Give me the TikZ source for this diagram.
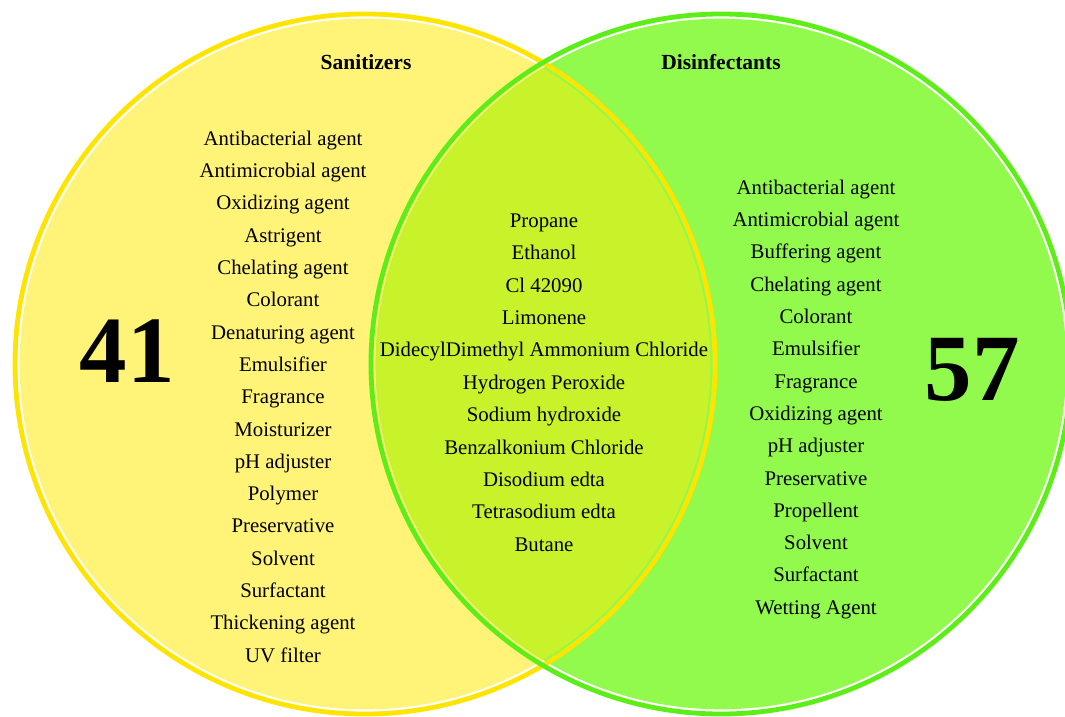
\documentclass[tikz,border=0pt]{standalone}
\usepackage{fontspec}
\setmainfont{Liberation Serif}
\definecolor{san_fill}{RGB}{255,243,120}
\definecolor{san_ring}{RGB}{255,228,0}
\definecolor{dis_fill}{RGB}{146,250,77}
\definecolor{dis_ring}{RGB}{92,238,22}
\definecolor{both_fill}{RGB}{200,242,42}
\tikzstyle{item_text} = [
    inner sep=0pt, 
    anchor=mid, 
    font=\fontsize{20.8}{25}\selectfont
]
\tikzstyle{head_text} = [
    inner sep=0pt, 
    anchor=mid, 
    font=\fontsize{21.5}{26}\selectfont\bfseries
]
\tikzstyle{count_text} = [
    inner sep=0pt, 
    font=\fontsize{95}{100}\selectfont\bfseries
]
\tikzstyle{ring} = [line width=4.8pt]
\begin{document}
\begin{tikzpicture}[x=1pt, y=-1pt]
\clip (0,0) rectangle (1065,717);
% fills
\fill [san_fill] (365,364) circle (345.3);
\fill [dis_fill] (721,364) circle (345.3);
\begin{scope}
    \clip (365,364) circle (345.3);
    \fill [both_fill] (721,364) circle (345.3);
\end{scope}
% rings
\draw [ring, san_ring] (365,364) circle (350);
\draw [ring, dis_ring] (721,364) circle (350);
% headings and counts
\node [head_text] (san_head) at (366,67) {Sanitizers};
\node [head_text] (dis_head) at (721,67) {Disinfectants};
\node [count_text] (san_count) at (127,351) {41};
\node [count_text] (dis_count) at (972,370) {57};
% lists
\foreach \name [count=\i] in {Antibacterial agent, Antimicrobial agent, 
    Oxidizing agent, Astrigent, Chelating agent, Colorant, Denaturing agent, 
    Emulsifier, Fragrance, Moisturizer, pH adjuster, Polymer, Preservative, 
    Solvent, Surfactant, Thickening agent, UV filter}
    \node [item_text] (san\i) at (283,{143+32.3*(\i-1)}) {\name};
\foreach \name [count=\i] in {Propane, Ethanol, Cl 42090, Limonene, 
    DidecylDimethyl Ammonium Chloride, Hydrogen Peroxide, Sodium hydroxide, 
    Benzalkonium Chloride, Disodium edta, Tetrasodium edta, Butane}
    \node [item_text] (both\i) at (544,{225+32.4*(\i-1)}) {\name};
\foreach \name [count=\i] in {Antibacterial agent, Antimicrobial agent, 
    Buffering agent, Chelating agent, Colorant, Emulsifier, Fragrance, 
    Oxidizing agent, pH adjuster, Preservative, Propellent, Solvent, 
    Surfactant, Wetting Agent}
    \node [item_text] (dis\i) at (816,{192+32.3*(\i-1)}) {\name};
\end{tikzpicture}
\end{document}
